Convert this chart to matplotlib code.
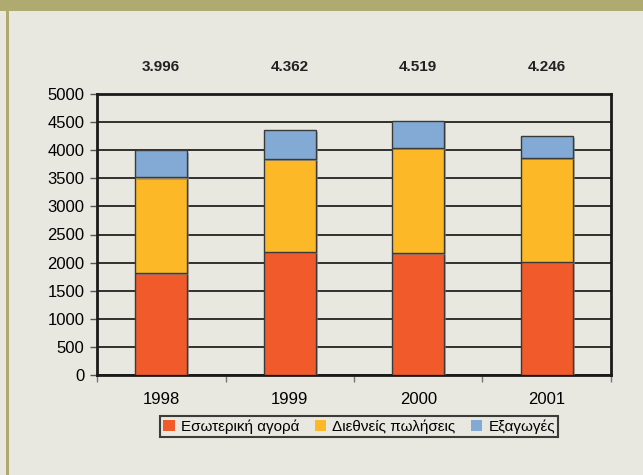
import numpy as np
import matplotlib
matplotlib.use("Agg")
import matplotlib.pyplot as plt
from matplotlib.patches import Rectangle
import matplotlib.patheffects as pe

plt.rcParams['font.family'] = ['Liberation Sans', 'DejaVu Sans']

years = ['1998', '1999', '2000', '2001']
domestic = [1815, 2190, 2177, 2016]      # Εσωτερική αγορά
intl_sales = [1700, 1653, 1868, 1840]    # Διεθνείς πωλήσεις
exports = [481, 519, 474, 390]           # Εξαγωγές
totals = ['3.996', '4.362', '4.519', '4.246']
series_names = ['Εσωτερική αγορά', 'Διεθνείς πωλήσεις', 'Εξαγωγές']

bg = '#E8E7E0'
olive = '#AFAB70'
colors = ['#F15A2B', '#FDB827', '#82AAD4']

fig = plt.figure(figsize=(6.43, 4.75), dpi=100, facecolor=bg)
# frame decoration
fig.patches.append(Rectangle((0, 1 - 11/475), 1, 11/475, transform=fig.transFigure,
                             facecolor=olive, edgecolor='none'))
fig.patches.append(Rectangle((6/643, 0), 2.5/643, 1 - 11/475, transform=fig.transFigure,
                             facecolor=olive, edgecolor='none'))

ax = fig.add_axes([97/643, 1 - 375/475, 514/643, 281/475])
ax.set_facecolor(bg)

x = np.arange(len(years))
shadow = [pe.SimplePatchShadow(offset=(1.5, -1.5), shadow_rgbFace='#888888', alpha=0.6), pe.Normal()]
bottom = np.zeros(len(years))
handles = []
for vals, c, name in zip([domestic, intl_sales, exports], colors, series_names):
    b = ax.bar(x, vals, width=0.405, bottom=bottom, color=c, edgecolor='#3a3a3a',
               linewidth=1, label=name, zorder=3)
    for p in b:
        p.set_path_effects(shadow)
    handles.append(b)
    bottom += np.array(vals)

ax.set_xlim(-0.5, len(years) - 0.5)
ax.set_ylim(0, 5000)
ax.set_yticks(np.arange(0, 5001, 500))
ax.yaxis.grid(True, color='#222222', linewidth=1.3, zorder=1)
ax.set_axisbelow(True)

ax.set_xticks(x)
ax.set_xticklabels(years, fontsize=12)
ax.set_xticks(np.arange(-0.5, len(years)), minor=True)
ax.tick_params(axis='x', which='major', length=0, pad=12)
ax.tick_params(axis='x', which='minor', length=5, color='#777777', width=1)
ax.tick_params(axis='y', labelsize=12, length=5, width=1, color='#555555', pad=4)

for s in ax.spines.values():
    s.set_color('#1a1a1a')
    s.set_linewidth(2)

for xi, t in zip(x, totals):
    ax.text(xi, 1.095, t, transform=ax.get_xaxis_transform(), ha='center', va='center',
            fontsize=11, fontweight='bold', color='#222222')

leg = ax.legend(handles=handles, loc='upper center', bbox_to_anchor=(0.51, -0.12),
                ncol=3, frameon=True, fontsize=11, handlelength=0.75, handleheight=0.8,
                handletextpad=0.4, columnspacing=1.0, borderpad=0.2, fancybox=False)
leg.get_frame().set_edgecolor('#111111')
leg.get_frame().set_linewidth(1.5)
leg.get_frame().set_facecolor(bg)
for h in leg.legend_handles:
    h.set_edgecolor('none')
    h.set_path_effects([])

fig.savefig('out.png', dpi=100, facecolor=bg)
